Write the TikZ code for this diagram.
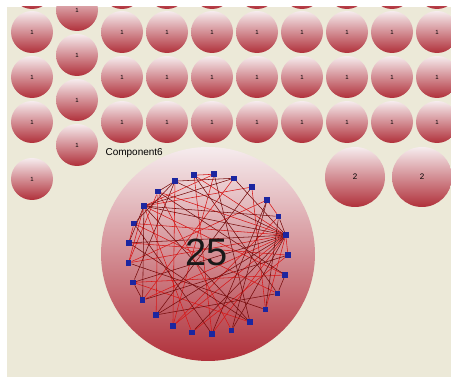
\documentclass[tikz,border=0pt]{standalone}
\usepackage{fontspec}
\setmainfont{Liberation Sans}
\usetikzlibrary{calc}

\definecolor{panel}{RGB}{236,233,216}
\definecolor{ballTop}{RGB}{246,236,238}
\definecolor{ballMid}{RGB}{216,150,157}
\definecolor{ballBot}{RGB}{176,48,58}
\definecolor{netBlue}{RGB}{28,38,160}
\definecolor{edgeRed}{RGB}{214,24,24}
\definecolor{edgeDark}{RGB}{118,12,12}

\begin{document}
\begin{tikzpicture}[x=1pt, y=-1pt,
    ball/.style={circle, inner sep=0pt, minimum size=#1,
        top color=ballTop, middle color=ballMid, bottom color=ballBot},
    ball/.default=42pt,
    vtx/.style={rectangle, fill=netBlue, inner sep=0pt, minimum size=5.5pt},
    link/.style={line width=0.55pt}]

    \useasboundingbox (0,0) rectangle (451,377);

    % Panel background with white frame
    \fill[white] (0,0) rectangle (451,377);
    \fill[panel] (7,7) rectangle (451,377);
    \clip (7,7) rectangle (451,377);

    % Singleton components (top row only shows its lower rim)
    \foreach \col in {0,2,3,...,9}{
        \node[ball] (s\col-0) at (32+45*\col, -12) {};
        \foreach \row in {1,...,3}{
            \node[ball, font=\fontsize{6}{7}\selectfont] (s\col-\row)
                at (32+45*\col, -13+45*\row) {1};
        }
    }
    \foreach \row in {0,...,3}{
        \node[ball, font=\fontsize{6}{7}\selectfont] (s1-\row)
            at (77, 10+45*\row) {1};
    }
    \node[ball, font=\fontsize{6}{7}\selectfont] (s0-4) at (32,179) {1};

    % Pairs
    \node[ball=60pt, font=\fontsize{8}{9}\selectfont] (p1) at (355,177) {2};
    \node[ball=60pt, font=\fontsize{8}{9}\selectfont] (p2) at (422,177) {2};

    % Large component
    \node[ball=214pt] (big) at (208,254) {};
    \node[anchor=west, font=\fontsize{10}{12}\selectfont] (lbl) at (102,153) {Component6};

    % Vertices on a ring
    \foreach \i in {0,...,24}{
        \node[vtx] (v\i) at ($(big.center)+(-100+14.4*\i:80)$) {};
    }

    % Edges
    \foreach \a/\b in {6/0, 6/10, 6/13, 6/15, 6/17, 6/19, 6/21, 6/23,
        22/1, 22/3, 22/8, 22/14, 22/19,
        0/13, 1/15, 2/17, 3/10, 4/19, 5/15, 7/14, 7/20, 8/18,
        9/21, 11/18, 12/23, 15/24, 16/23, 19/23, 20/21, 0/1, 4/5, 6/7}{
        \draw[link, edgeRed] (v\a) -- (v\b);
    }
    \foreach \a/\b in {6/2, 6/12, 6/14, 6/16, 6/18, 6/20, 6/22, 6/24,
        22/2, 22/5, 22/11, 22/17, 22/20,
        0/9, 1/11, 2/24, 3/16, 4/13, 4/12, 5/10, 7/17, 8/23,
        9/16, 10/19, 11/20, 13/21, 18/24, 21/24, 23/24, 17/18, 8/9, 5/6}{
        \draw[link, edgeDark] (v\a) -- (v\b);
    }

    % Size of the large component
    \node[font=\fontsize{38}{40}\selectfont, text=black!90] (size) at (207,252) {25};

\end{tikzpicture}
\end{document}
